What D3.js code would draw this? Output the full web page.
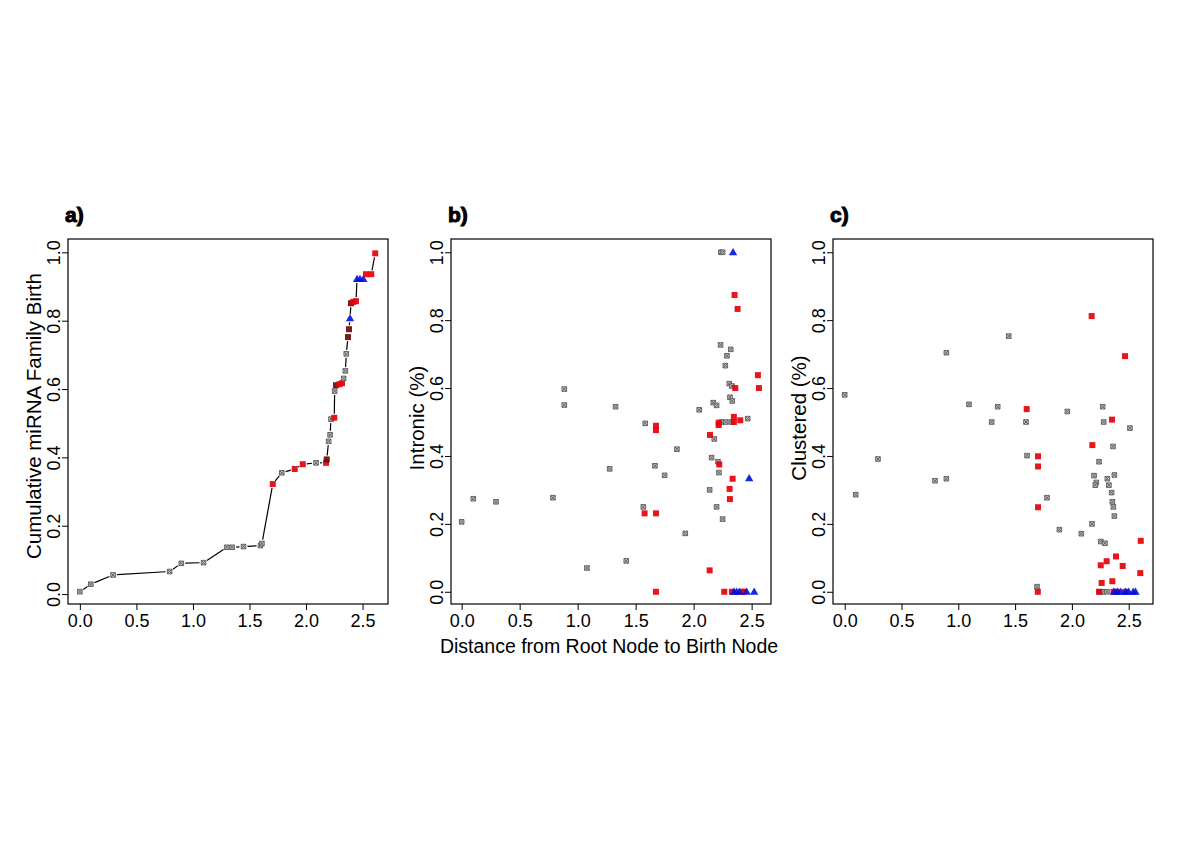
<!DOCTYPE html>
<html>
<head>
<meta charset="utf-8">
<script src="https://cdn.jsdelivr.net/npm/d3@7"></script>
<style>
  body { margin: 0; background: #fff; }
  text { font-family: "Liberation Sans", Arial, sans-serif; fill: #000; }
</style>
</head>
<body>
<div id="chart"></div>
<script>

// panel a: cumulative birth along the distance axis ("g" grey, "r" red, "b" blue, "d" red under grey)
var aDist = [0.0, 0.097, 0.294, 0.794, 0.897, 1.094, 1.30, 1.347, 1.447, 1.597, 1.61,
             1.706, 1.786, 1.90, 1.971, 2.089, 2.177, 2.183, 2.20, 2.213, 2.221, 2.25,
             2.253, 2.265, 2.295, 2.318, 2.333, 2.348, 2.356, 2.371, 2.38, 2.389, 2.398,
             2.418, 2.442, 2.451, 2.477, 2.507, 2.53, 2.577, 2.612];
var aCum  = [0.007, 0.029, 0.056, 0.066, 0.090, 0.092, 0.137, 0.137, 0.139, 0.142, 0.148,
             0.322, 0.355, 0.366, 0.380, 0.384, 0.384, 0.394, 0.447, 0.466, 0.512, 0.516,
             0.594, 0.611, 0.614, 0.617, 0.631, 0.653, 0.703, 0.752, 0.775, 0.807, 0.851,
             0.855, 0.857, 0.922, 0.922, 0.922, 0.936, 0.936, 0.997];
var aType = ["g","g","g","g","g","g","g","g","g","g","g",
             "r","g","r","r","g","r","d","g","g","g","r",
             "g","d","r","r","g","g","g","d","d","b","d",
             "r","r","b","b","b","r","r","r"];

// panel b: intronic share
var bDist = [2.235, 2.25, 2.232, 2.32, 2.287, 2.273, 2.307, 2.33, 0.885, 0.885, 1.327, 2.313,
             2.333, 2.169, 2.198, 2.048, 2.466, 2.241, 2.276, 2.324, 1.583, 2.178, 1.856, 2.155,
             2.21, 1.666, 1.276, 2.218, 1.75, 2.138, 0.1, 0.296, 0.787, 1.566, 2.198, 2.25,
             0.0, 1.928, 1.419, 1.08,
             2.353, 2.379, 2.554, 2.563, 2.359, 2.402, 2.216, 2.216, 2.347, 2.347, 1.675, 1.675,
             2.141, 2.221, 2.336, 2.31, 2.313, 1.577, 1.675, 2.138, 1.675, 2.264, 2.33, 2.422, 2.43,
             2.34, 2.479, 2.347, 2.37, 2.393, 2.457, 2.522];
var bIntron = [1.0, 1.0, 0.727, 0.714, 0.695, 0.666, 0.613, 0.606, 0.597, 0.550, 0.545, 0.573,
               0.562, 0.557, 0.549, 0.536, 0.510, 0.50, 0.50, 0.50, 0.496, 0.450, 0.420, 0.395,
               0.383, 0.371, 0.362, 0.351, 0.343, 0.300, 0.274, 0.265, 0.277, 0.250, 0.250, 0.214,
               0.206, 0.172, 0.091, 0.070,
               0.874, 0.833, 0.638, 0.600, 0.600, 0.505, 0.498, 0.491, 0.515, 0.500, 0.489, 0.476,
               0.462, 0.375, 0.333, 0.303, 0.273, 0.231, 0.231, 0.063, 0, 0, 0, 0, 0,
               1.0, 0.334, 0, 0, 0, 0, 0];
var bType = ["g","g","g","g","g","g","g","g","g","g","g","g",
             "g","g","g","g","g","g","g","g","g","g","g","g",
             "g","g","g","g","g","g","g","g","g","g","g","g",
             "g","g","g","g",
             "r","r","r","r","r","r","r","r","r","r","r","r",
             "r","r","r","r","r","r","r","r","r","r","r","r","r",
             "b","b","b","b","b","b","b"];

// panel c: clustered share
var cDist = [0.0, 0.895, 1.444, 1.094, 1.347, 1.96, 2.271, 1.294, 1.596, 2.28, 2.511, 2.362,
             0.293, 1.605, 2.239, 0.795, 0.895, 2.195, 2.374, 2.215, 2.206, 2.312, 2.326, 2.35,
             2.356, 2.365, 2.374, 0.097, 1.781, 2.177, 1.89, 2.083, 2.254, 2.291, 1.693,
             2.239, 2.259, 2.28, 2.309,
             2.174, 2.468, 1.602, 2.353, 2.18, 1.702, 1.702, 1.702, 2.606, 2.388, 2.306, 2.254,
             2.447, 2.602, 2.356, 2.262, 1.70, 2.24, 2.367, 2.397, 2.47,
             2.37, 2.40, 2.43, 2.473, 2.50, 2.54, 2.56];
var cClust = [0.58, 0.704, 0.753, 0.552, 0.545, 0.531, 0.545, 0.50, 0.50, 0.50, 0.482, 0.428,
              0.391, 0.401, 0.383, 0.327, 0.333, 0.342, 0.344, 0.322, 0.314, 0.333, 0.314, 0.292,
              0.265, 0.250, 0.223, 0.286, 0.277, 0.200, 0.183, 0.171, 0.148, 0.143, 0.015,
              0, 0, 0, 0,
              0.812, 0.694, 0.538, 0.507, 0.432, 0.399, 0.369, 0.249, 0.150, 0.104, 0.090, 0.078,
              0.076, 0.055, 0.031, 0.026, 0, 0, 0, 0, 0,
              0, 0, 0, 0, 0, 0, 0];
var cType = ["g","g","g","g","g","g","g","g","g","g","g","g",
             "g","g","g","g","g","g","g","g","g","g","g","g",
             "g","g","g","g","g","g","g","g","g","g","g",
             "g","g","g","g",
             "r","r","r","r","r","r","r","r","r","r","r","r",
             "r","r","r","r","r","r","r","r","r",
             "b","b","b","b","b","b","b"];

var xTicks = [0, 0.5, 1, 1.5, 2, 2.5];
var yTicks = [0, 0.2, 0.4, 0.6, 0.8, 1.0];

//--------------------------------------------------------------------------
//
// svg
//

var outerWidth = 1200,
    outerHeight = 849,
    plotTop = 239,
    plotBottom = 604;

var svg = d3.select("#chart").append("svg")
    .attr("width", outerWidth)
    .attr("height", outerHeight);

svg.append("rect")
    .attr("width", outerWidth)
    .attr("height", outerHeight)
    .attr("fill", "#fff");

function zip(xs, ys, ts) {
  return xs.map(function(d, i) { return {x: d, y: ys[i], t: ts[i]}; });
}

function drawMarks(g, data, x, y) {
  data.forEach(function(d) {
    var px = x(d.x), py = y(d.y);
    if (d.t === "g") {
      var s = 2.3;
      g.append("path")
          .attr("d", "M" + (px - s) + "," + (py - s) + "h" + 2 * s + "v" + 2 * s + "h" + (-2 * s) + "Z" +
                     "M" + (px - s) + "," + (py - s) + "l" + 2 * s + "," + 2 * s +
                     "M" + (px + s) + "," + (py - s) + "l" + (-2 * s) + "," + 2 * s)
          .attr("fill", "#c4c4c4")
          .attr("stroke", "#5a5a5a")
          .attr("stroke-width", 0.9);
    } else if (d.t === "r" || d.t === "d") {
      g.append("rect")
          .attr("x", px - 3).attr("y", py - 3)
          .attr("width", 6).attr("height", 6)
          .attr("fill", d.t === "d" ? "#6a0a0a" : "#e8000b")
          .attr("fill-opacity", 0.92);
    } else {
      g.append("path")
          .attr("d", d3.symbol().type(d3.symbolTriangle).size(30)())
          .attr("transform", "translate(" + px + "," + (py + 0.5) + ")")
          .attr("fill", "#0010e0")
          .attr("fill-opacity", 0.9);
    }
  });
}

function drawPanel(cfg) {
  var x = d3.scaleLinear().domain(cfg.xDomain).range([cfg.left, cfg.right]);
  var y = d3.scaleLinear().domain([-0.036, 1.039]).range([plotBottom, plotTop]);
  if (cfg.yDomain) y.domain(cfg.yDomain);

  var g = svg.append("g").attr("class", "panel");

  // x axis
  var xAxis = g.append("g")
      .attr("transform", "translate(0," + plotBottom + ")")
      .call(d3.axisBottom(x).tickValues(xTicks).tickFormat(d3.format(".1f"))
            .tickSize(6).tickPadding(4));
  xAxis.select(".domain").remove();
  xAxis.selectAll("line").attr("stroke", "#000");
  xAxis.selectAll("text")
      .style("font-size", "18px")
      .attr("fill", "#000");

  // y axis, labels turned like base R
  var yAxis = g.append("g")
      .attr("transform", "translate(" + cfg.left + ",0)")
      .call(d3.axisLeft(y).tickValues(yTicks).tickFormat(d3.format(".1f")).tickSize(6));
  yAxis.select(".domain").remove();
  yAxis.selectAll("line").attr("stroke", "#000");
  yAxis.selectAll("text")
      .attr("x", 0)
      .attr("y", -8)
      .attr("dy", 0)
      .attr("transform", "rotate(-90)")
      .attr("text-anchor", "middle")
      .style("font-size", "18px")
      .attr("fill", "#000");

  // frame
  g.append("rect")
      .attr("x", cfg.left)
      .attr("y", plotTop)
      .attr("width", cfg.right - cfg.left)
      .attr("height", plotBottom - plotTop)
      .attr("fill", "none")
      .attr("stroke", "#000")
      .attr("stroke-width", 1.2);

  // y title
  g.append("text")
      .attr("transform", "translate(" + (cfg.left - 27) + "," + cfg.titleY + ") rotate(-90)")
      .attr("text-anchor", "middle")
      .style("font-size", "20.5px")
      .text(cfg.yTitle);

  // panel letter
  g.append("text")
      .attr("x", cfg.left - 3)
      .attr("y", 222)
      .style("font-size", "21px")
      .style("font-weight", "bold")
      .attr("stroke", "#000")
      .attr("stroke-width", 1)
      .text(cfg.letter);

  var data = zip(cfg.xs, cfg.ys, cfg.ts);

  // line with gaps at the points (type = "b")
  if (cfg.line) {
    var gap = 4;
    for (var i = 1; i < data.length; i++) {
      var x0 = x(data[i - 1].x), y0 = y(data[i - 1].y),
          x1 = x(data[i].x), y1 = y(data[i].y),
          len = Math.sqrt((x1 - x0) * (x1 - x0) + (y1 - y0) * (y1 - y0));
      if (len <= 2 * gap + 1) continue;
      var ux = (x1 - x0) / len, uy = (y1 - y0) / len;
      g.append("line")
          .attr("x1", x0 + ux * gap).attr("y1", y0 + uy * gap)
          .attr("x2", x1 - ux * gap).attr("y2", y1 - uy * gap)
          .attr("stroke", "#000")
          .attr("stroke-width", 1.2);
    }
  }

  drawMarks(g.append("g").attr("class", "marks"), data, x, y);
}

drawPanel({letter: "a)", left: 68, right: 388, xDomain: [-0.105, 2.725], yDomain: [-0.029, 1.039],
           titleY: 416, xs: aDist, ys: aCum, ts: aType, line: true,
           yTitle: "Cumulative miRNA Family Birth"});
drawPanel({letter: "b)", left: 451, right: 771, xDomain: [-0.092, 2.667],
           titleY: 418, xs: bDist, ys: bIntron, ts: bType, line: false, yTitle: "Intronic (%)"});
drawPanel({letter: "c)", left: 833, right: 1153, xDomain: [-0.103, 2.714],
           titleY: 418, xs: cDist, ys: cClust, ts: cType, line: false, yTitle: "Clustered (%)"});

// shared x title
svg.append("text")
    .attr("x", 609)
    .attr("y", 653)
    .attr("text-anchor", "middle")
    .style("font-size", "19.5px")
    .text("Distance from Root Node to Birth Node");

</script>
</body>
</html>
